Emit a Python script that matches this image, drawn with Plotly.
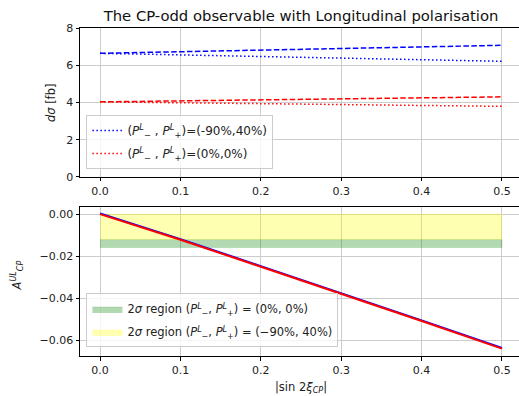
import plotly.graph_objects as go

# ---- data ----
x = [0.0, 0.1, 0.2, 0.3, 0.4, 0.5]
sig_pol_dashed = [6.64, 6.72, 6.80, 6.89, 6.98, 7.07]
sig_pol_dotted = [6.64, 6.56, 6.47, 6.39, 6.30, 6.21]
sig_unpol_dashed = [4.03, 4.08, 4.14, 4.19, 4.25, 4.30]
sig_unpol_dotted = [4.03, 3.98, 3.93, 3.89, 3.84, 3.79]

acp_pol = [0.0003, -0.0119, -0.0247, -0.0375, -0.0505, -0.0636]
acp_unpol = [0.0, -0.0122, -0.0250, -0.0378, -0.0508, -0.0639]

band_x = [0.0, 0.5]
green_lo, green_hi = -0.0159, -0.0121
yellow_lo, yellow_hi = -0.0121, 0.0

leg_pol = "(<i>P</i><sup><i>L</i></sup><sub>−</sub> , <i>P</i><sup><i>L</i></sup><sub>+</sub>)=(-90%,40%)"
leg_unpol = "(<i>P</i><sup><i>L</i></sup><sub>−</sub> , <i>P</i><sup><i>L</i></sup><sub>+</sub>)=(0%,0%)"
leg_green = "2<i>σ</i> region (<i>P</i><sup><i>L</i></sup><sub>−</sub>, <i>P</i><sup><i>L</i></sup><sub>+</sub>) = (0%, 0%)"
leg_yellow = "2<i>σ</i> region (<i>P</i><sup><i>L</i></sup><sub>−</sub>, <i>P</i><sup><i>L</i></sup><sub>+</sub>) = (−90%, 40%)"

FONT = "DejaVu Sans"
TXT = "#222222"
W, H = 519, 396
L, R, T, B = 80.3, 0, 28, 39.7

fig = go.Figure()

DASH = "5.5px,2.4px"
DOT = "1.5px,2.5px"

# top panel
fig.add_trace(go.Scatter(x=x, y=sig_pol_dashed, mode="lines", line=dict(color="blue", width=1.5, dash=DASH),
                         showlegend=False, xaxis="x", yaxis="y"))
fig.add_trace(go.Scatter(x=x, y=sig_pol_dotted, mode="lines", line=dict(color="blue", width=1.5, dash=DOT),
                         name=leg_pol, legend="legend", legendgroup="a", xaxis="x", yaxis="y"))
fig.add_trace(go.Scatter(x=x, y=sig_unpol_dashed, mode="lines", line=dict(color="red", width=1.5, dash=DASH),
                         showlegend=False, xaxis="x", yaxis="y"))
fig.add_trace(go.Scatter(x=x, y=sig_unpol_dotted, mode="lines", line=dict(color="red", width=1.5, dash=DOT),
                         name=leg_unpol, legend="legend", legendgroup="b", xaxis="x", yaxis="y"))

# bottom panel bands
fig.add_trace(go.Scatter(x=band_x + band_x[::-1], y=[green_hi, green_hi, green_lo, green_lo],
                         fill="toself", fillcolor="rgba(0,128,0,0.3)", mode="lines",
                         line=dict(width=0.5, color="rgba(0,128,0,0.3)"),
                         name=leg_green, legend="legend2", legendgroup="c", xaxis="x2", yaxis="y2"))
fig.add_trace(go.Scatter(x=band_x + band_x[::-1], y=[yellow_hi, yellow_hi, yellow_lo, yellow_lo],
                         fill="toself", fillcolor="rgba(255,255,0,0.3)", mode="lines",
                         line=dict(width=0.5, color="rgba(255,255,0,0.3)"),
                         name=leg_yellow, legend="legend2", legendgroup="d", xaxis="x2", yaxis="y2"))
fig.add_trace(go.Scatter(x=x, y=acp_pol, mode="lines", line=dict(color="blue", width=2),
                         showlegend=False, xaxis="x2", yaxis="y2"))
fig.add_trace(go.Scatter(x=x, y=acp_unpol, mode="lines", line=dict(color="red", width=2),
                         showlegend=False, xaxis="x2", yaxis="y2"))

plot_h = H - T - B
def py(pix):
    return (H - B - pix) / plot_h
def px(pix):
    return (pix - L) / (W - L - R)

axis_common = dict(
    showgrid=True, gridcolor="#cccccc", gridwidth=1,
    showline=True, linecolor="black", linewidth=1, mirror=True,
    ticks="outside", ticklen=3.5, tickcolor="black", tickwidth=1,
    tickfont=dict(family=FONT, size=11, color=TXT),
    zeroline=False,
)

xr = [-0.025, 0.5212]
fig.update_layout(
    width=W, height=H,
    margin=dict(l=L, r=R, t=T, b=B),
    paper_bgcolor="white", plot_bgcolor="white",
    font=dict(family=FONT, size=11, color=TXT),
    title=dict(text="The CP-odd observable with Longitudinal polarisation",
               x=301 / W, xanchor="center", y=1 - 15.5 / H, yanchor="middle",
               font=dict(family=FONT, size=14.8, color="#111111")),
    xaxis=dict(domain=[0, 1], range=xr, dtick=0.1, tick0=0, tickformat=".1f", anchor="y", **axis_common),
    yaxis=dict(domain=[py(177), 1], range=[0, 8], dtick=2, tick0=0, anchor="x", **axis_common),
    xaxis2=dict(domain=[0, 1], range=xr, dtick=0.1, tick0=0, tickformat=".1f", anchor="y2", **axis_common),
    yaxis2=dict(domain=[0, py(207.3)], range=[-0.0674, 0.0033], dtick=0.02, tick0=0, tickformat=".2f",
                anchor="x2", **axis_common),
    legend=dict(x=px(86.7), y=py(115), xanchor="left", yanchor="top",
                bgcolor="rgba(255,255,255,0.8)", bordercolor="#cccccc", borderwidth=1,
                font=dict(family=FONT, size=12, color=TXT), tracegroupgap=4),
    legend2=dict(x=px(86.7), y=py(293.7), xanchor="left", yanchor="top",
                 bgcolor="rgba(255,255,255,0.8)", bordercolor="#cccccc", borderwidth=1,
                 font=dict(family=FONT, size=11.5, color=TXT), tracegroupgap=4),
    annotations=[
        dict(text="<i>dσ</i> [fb]", x=px(52), y=py(102.5), xref="paper", yref="paper",
             textangle=-90, showarrow=False, xanchor="center", yanchor="middle",
             font=dict(family=FONT, size=11.5, color=TXT)),
        dict(text="<i>A</i><sup><i>UL</i></sup><sub><i>CP</i></sub>", x=px(17), y=py(276), xref="paper", yref="paper",
             textangle=-90, showarrow=False, xanchor="center", yanchor="middle",
             font=dict(family=FONT, size=11.5, color=TXT)),
        dict(text="|sin 2<i>ξ</i><sub><i>CP</i></sub>|", x=px(301), y=py(388), xref="paper", yref="paper",
             showarrow=False, xanchor="center", yanchor="middle",
             font=dict(family=FONT, size=11.5, color=TXT)),
    ],
)

fig.write_html("out.html")
